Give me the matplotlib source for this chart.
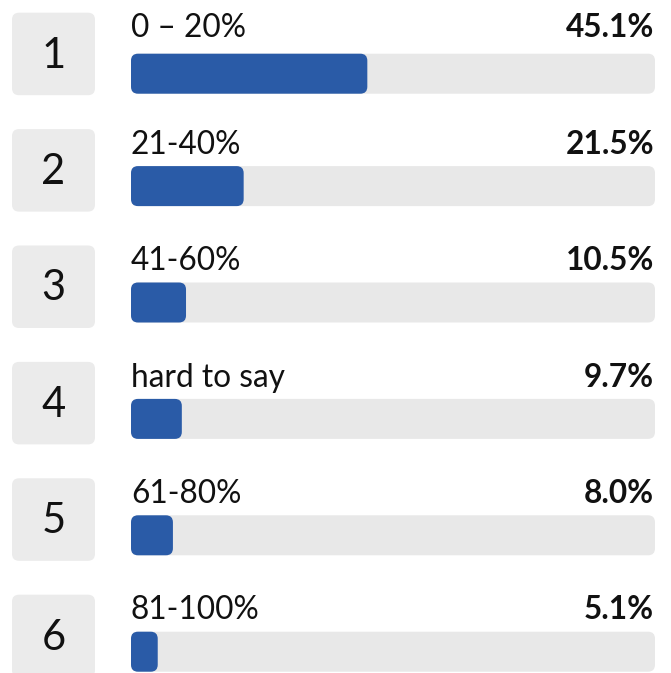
import matplotlib.pyplot as plt
from matplotlib.patches import FancyBboxPatch

# Données
ranks = [1, 2, 3, 4, 5, 6]
categories = ['0 – 20%', '21-40%', '41-60%', 'hard to say', '61-80%', '81-100%']
shares = [45.1, 21.5, 10.5, 9.7, 8.0, 5.1]

# Mise en page (pixels)
W, H = 671, 673
track_x0, track_w = 131, 524
row_top0, row_step = 12.7, 116.4
box_x0, box_w, box_h = 12, 83, 82.5
bar_dy = [41, 37, 37, 37, 37, 37]  # décalage barre / haut de ligne
bar_h = 40

blue = '#2a5ba7'
track_grey = '#e8e8e8'
box_grey = '#ebebeb'

plt.rcParams['font.family'] = ['Lato', 'DejaVu Sans']


def to_px(v):
    # échelle 0-100 % -> largeur de la piste
    return track_x0 + v / 100 * track_w


fig = plt.figure(figsize=(W / 100, H / 100), dpi=100)
ax = fig.add_axes([0, 0, 1, 1])
ax.set_xlim(0, W)
ax.set_ylim(H, 0)
ax.axis('off')

for i, (rank, cat, val) in enumerate(zip(ranks, categories, shares)):
    top = row_top0 + i * row_step
    bar_y = top + bar_dy[i]

    # case du rang
    ax.add_patch(FancyBboxPatch((box_x0, top), box_w, box_h,
                                boxstyle='round,pad=0,rounding_size=7',
                                fc=box_grey, ec='none'))
    ax.text(box_x0 + box_w / 2, top + 54.8, str(rank), fontsize=30,
            ha='center', va='baseline', color='#111111')

    # piste grise + barre
    ax.add_patch(FancyBboxPatch((to_px(0), bar_y), track_w, bar_h,
                                boxstyle='round,pad=0,rounding_size=7',
                                fc=track_grey, ec='none'))
    ax.add_patch(FancyBboxPatch((to_px(0), bar_y), to_px(val) - to_px(0), bar_h,
                                boxstyle='round,pad=0,rounding_size=7',
                                fc=blue, ec='none'))

    # libellés
    ax.text(to_px(0), top + 24.6, cat, fontsize=22.8, ha='left', va='baseline',
            color='#111111')
    ax.text(to_px(100) - 1, top + 24.6, f'{val:.1f}%', fontsize=22.8,
            fontweight='bold', ha='right', va='baseline', color='#111111')

plt.savefig('out.png', dpi=100)
